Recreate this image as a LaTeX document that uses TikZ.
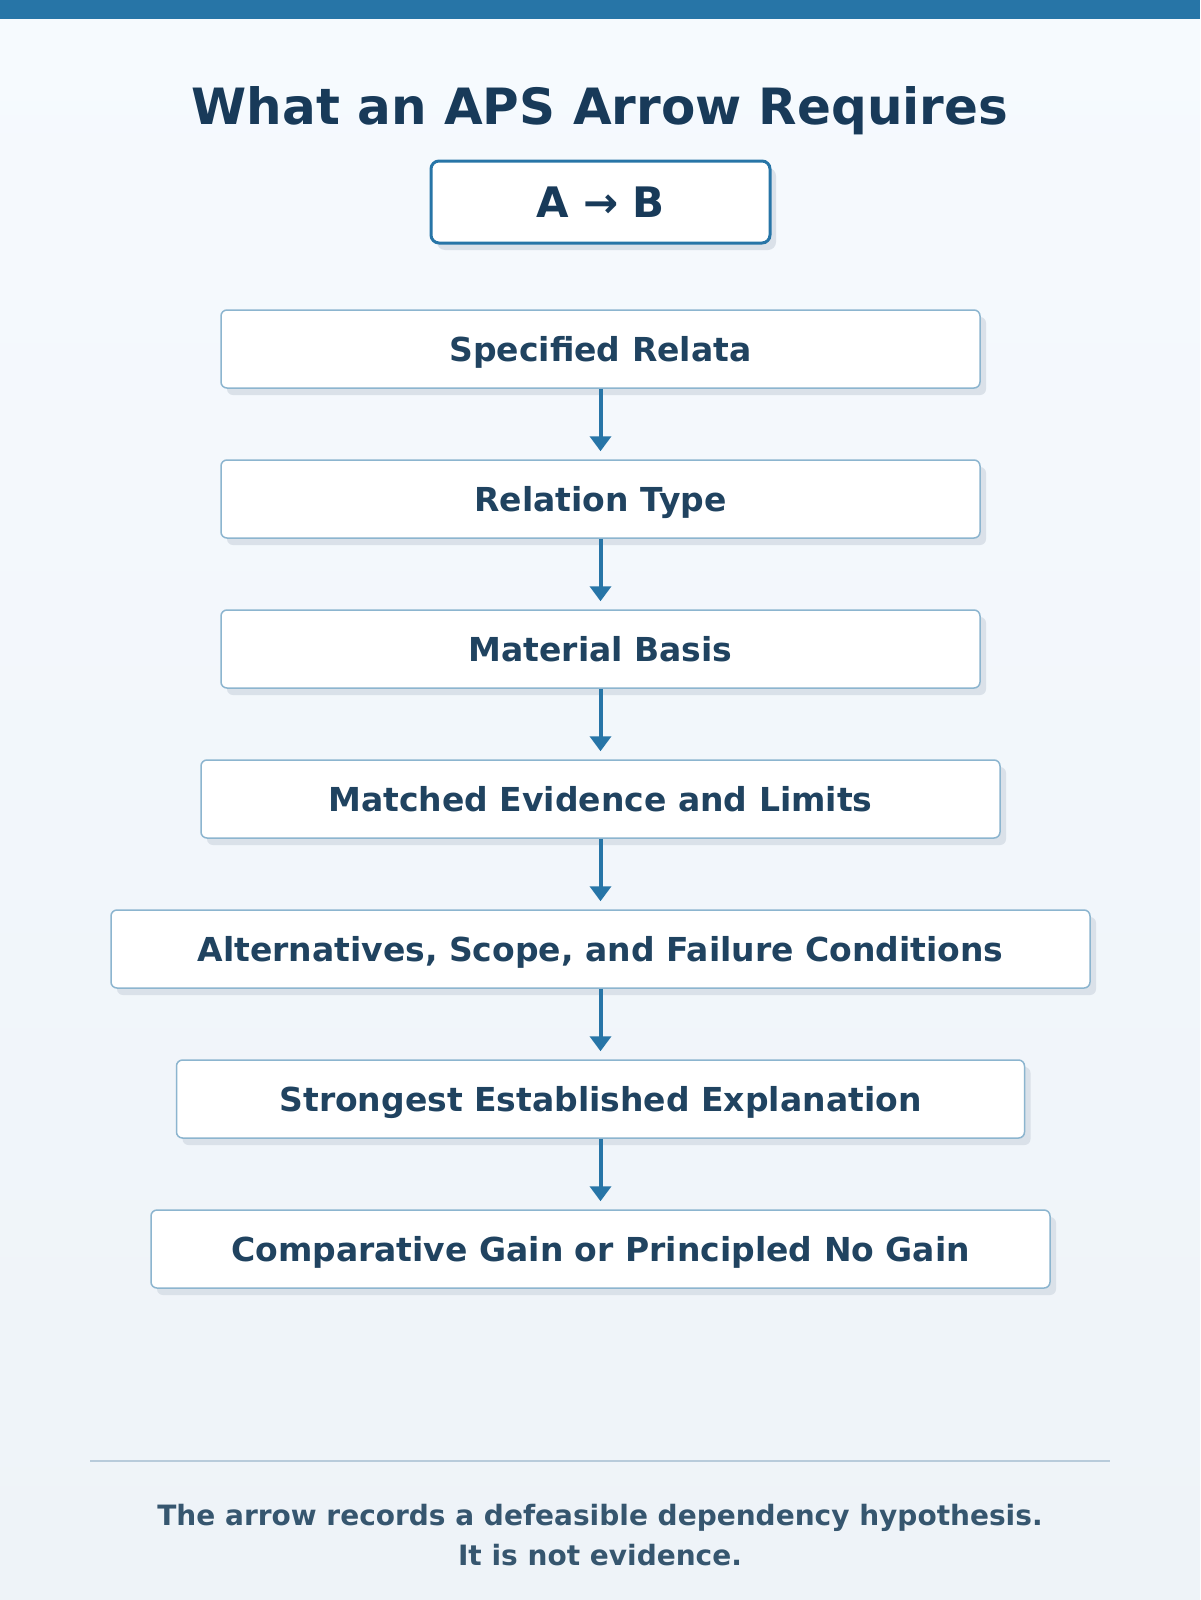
\documentclass[tikz,border=0pt]{standalone}
\usepackage{fontspec}
\setmainfont{DejaVu Sans}
\usetikzlibrary{arrows.meta,positioning,shadows}
\definecolor{barblue}{HTML}{2775A7}
\definecolor{bgtop}{HTML}{F6FAFE}
\definecolor{bgbot}{HTML}{EEF3F8}
\definecolor{titleblue}{HTML}{183A59}
\definecolor{textblue}{HTML}{204360}
\definecolor{footblue}{HTML}{36566F}
\definecolor{edgeblue}{HTML}{8CB5CF}
\definecolor{shadowgray}{HTML}{DAE1E9}
\definecolor{rulegray}{HTML}{B8CBDB}
\tikzstyle{block} = [rectangle, draw=edgeblue, line width=0.75pt, fill=white,
    rounded corners=3pt, minimum width=379.5pt, minimum height=39pt,
    text=textblue, font=\fontsize{16.5pt}{19.5pt}\selectfont\bfseries,
    text height=12pt, text depth=0pt,
    drop shadow={shadow xshift=3pt, shadow yshift=-3.5pt, fill=shadowgray, opacity=1}]
\tikzstyle{arrowbox} = [block, draw=barblue, line width=1.5pt, rounded corners=4pt,
    minimum width=169.5pt, minimum height=41pt, text=titleblue,
    font=\fontsize{21pt}{25pt}\selectfont\bfseries, text height=15.3pt]
\tikzstyle{link} = [draw=barblue, line width=2pt, shorten >=4pt]
\tikzstyle{note} = [anchor=base, text=footblue, font=\fontsize{14pt}{17pt}\selectfont\bfseries]

\begin{document}
\begin{tikzpicture}[x=0.5pt,y=-0.5pt,->,>={Triangle[length=7.5pt,width=10.5pt]},
                    node distance=75pt]

  \useasboundingbox (0,0) rectangle (1200,1600);
  \shade[top color=bgtop,bottom color=bgbot] (0,0) rectangle (1200,1600);
  \fill[barblue] (0,0) rectangle (1200,19);

  \node[anchor=base, text=titleblue, font=\fontsize{25pt}{30pt}\selectfont\bfseries]
       (title) at (600,124.5) {What an APS Arrow Requires};
  \node[arrowbox] (ab) at (600.5,202) {A → B};

  \node[block]   (relata)  [below of=ab, node distance=73.5pt] {Specified Relata};
  \node[block]   (reltype) [below of=relata]  {Relation Type};
  \node[block]   (basis)   [below of=reltype] {Material Basis};
  \node[block, minimum width=399.5pt] (evid)   [below of=basis]  {Matched Evidence and Limits};
  \node[block, minimum width=489.5pt] (alt)    [below of=evid]   {Alternatives, Scope, and Failure Conditions};
  \node[block, minimum width=424pt]   (strong) [below of=alt]    {Strongest Established Explanation};
  \node[block, minimum width=449.5pt] (gain)   [below of=strong] {Comparative Gain or Principled No Gain};

  \path (relata)  edge[link] (reltype)
        (reltype) edge[link] (basis)
        (basis)   edge[link] (evid)
        (evid)    edge[link] (alt)
        (alt)     edge[link] (strong)
        (strong)  edge[link] (gain);

  \draw[-, rulegray, line width=1pt] (90,1460.5) -- (1110,1460.5);
  \node[note] (notea) at (600,1525.7) {The arrow records a defeasible dependency hypothesis.};
  \node[note] (noteb) at (600,1565) {It is not evidence.};
\end{tikzpicture}
\end{document}
